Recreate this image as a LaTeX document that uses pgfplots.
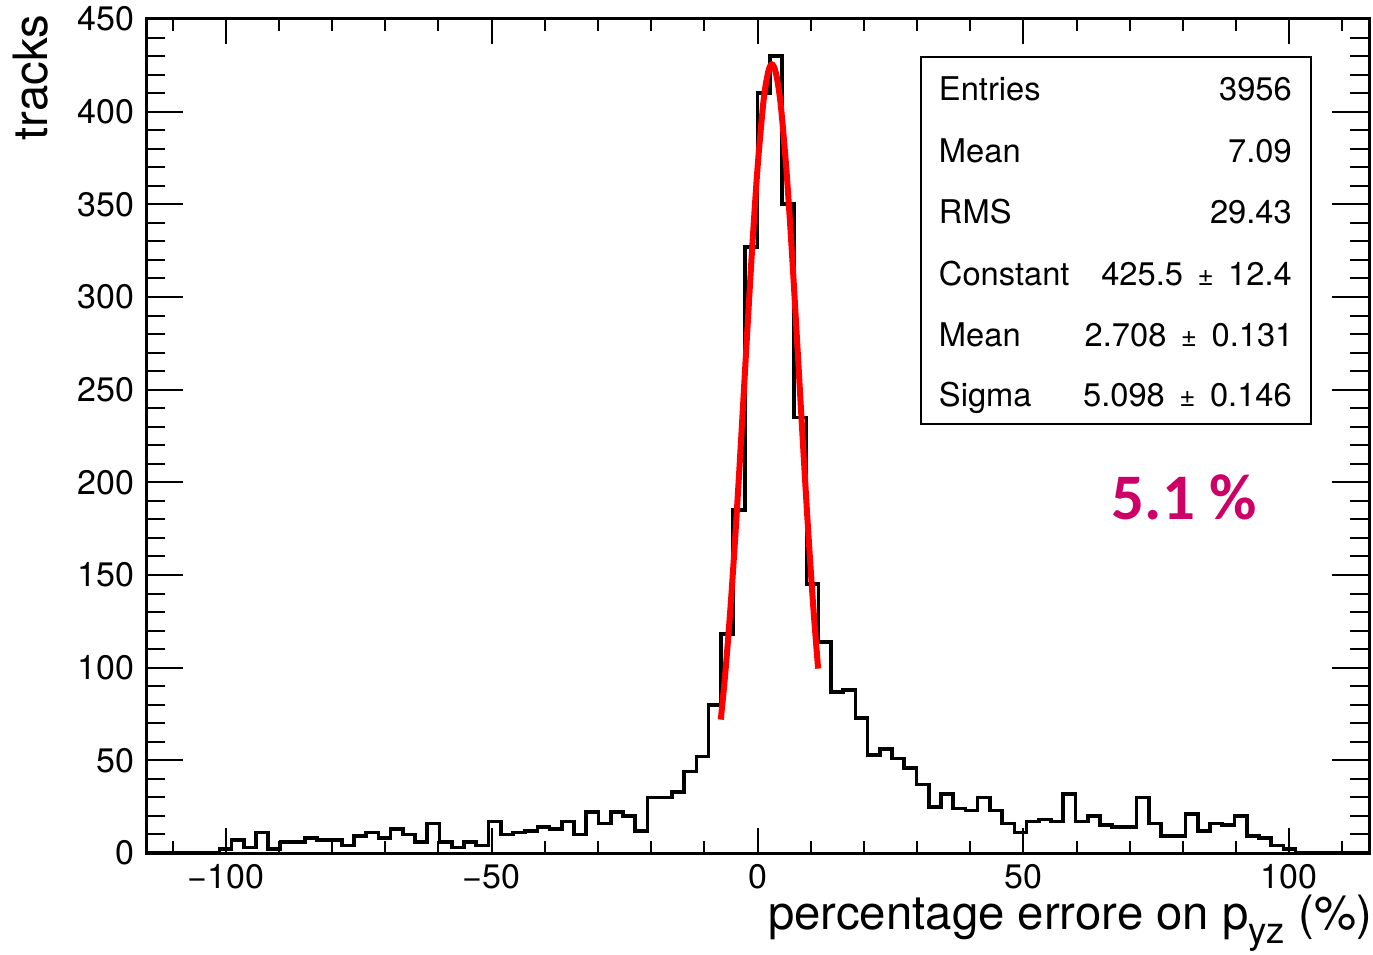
\documentclass[border=0pt]{standalone}
\usepackage{fontspec}
\setmainfont{TeX Gyre Heros}
\newfontfamily\carlito{Carlito}
\usepackage{pgfplots}
\usepackage{pgfplotstable}
\pgfplotsset{compat=1.18}
\definecolor{pctmagenta}{RGB}{204,0,102}

\pgfplotstableread{
x y
-115 0
-112.7 0
-110.4 0
-108.1 0
-105.8 0
-103.5 0
-101.2 2
-98.9 7
-96.6 3
-94.3 11
-92 2
-89.7 6
-87.4 6
-85.1 8
-82.8 7
-80.5 7
-78.2 4
-75.9 9
-73.6 11
-71.3 8
-69 13
-66.7 10
-64.4 6
-62.1 16
-59.8 6
-57.5 3
-55.2 6
-52.9 4
-50.6 17
-48.3 10
-46 11
-43.7 12
-41.4 14
-39.1 13
-36.8 17
-34.5 10
-32.2 22
-29.9 16
-27.6 22
-25.3 20
-23 12
-20.7 30
-18.4 30
-16.1 33
-13.8 44
-11.5 52
-9.2 80
-6.9 118
-4.6 185
-2.3 327
0 410
2.3 430
4.6 350
6.9 235
9.2 145
11.5 114
13.8 87
16.1 88
18.4 73
20.7 53
23 56
25.3 51
27.6 46
29.9 37
32.2 25
34.5 32
36.8 24
39.1 23
41.4 30
43.7 23
46 16
48.3 11
50.6 17
52.9 18
55.2 17
57.5 32
59.8 17
62.1 20
64.4 15
66.7 14
69 14
71.3 30
73.6 16
75.9 9
78.2 9
80.5 21
82.8 12
85.1 16
87.4 15
89.7 20
92 9
94.3 8
96.6 4
98.9 2
101.2 0
103.5 0
105.8 0
108.1 0
110.4 0
112.7 0
115 0
}\histdata

\begin{document}
\begin{tikzpicture}
\begin{axis}[
  scale only axis,
  width=366.9pt, height=250.2pt,
  xmin=-115, xmax=115, ymin=0, ymax=450,
  xtick={-100,-50,0,50,100},
  xticklabels={−100,−50,0,50,100},
  minor xtick={-110,-100,...,110},
  ytick={0,50,...,450},
  minor ytick={0,10,...,450},
  tick align=inside,
  axis line style={line width=0.9pt},
  major tick style={black, line width=0.6pt},
  minor tick style={black, line width=0.6pt},
  xtick style={/pgfplots/major tick length=7.5pt, /pgfplots/minor tick length=3.6pt},
  ytick style={/pgfplots/major tick length=11pt, /pgfplots/minor tick length=5.6pt},
  /pgf/number format/assume math mode=true,
  tick label style={font=\fontsize{10.2}{12}\selectfont},
  xlabel={percentage errore on p\raisebox{-0.55ex}{\fontsize{11}{12}\selectfont yz} (\%)},
  xlabel style={at={(rel axis cs:1.003,-0.0923)}, anchor=base east, inner sep=0pt, font=\fontsize{14.2}{17}\selectfont},
  ylabel={tracks},
  ylabel style={at={(rel axis cs:-0.0793,1.006)}, anchor=south east, inner sep=0pt, rotate=0, font=\fontsize{14.2}{17}\selectfont},
  clip=false,
]
\addplot[const plot mark left, black, line width=1.1pt, mark=none] table[x=x, y=y] {\histdata};
\addplot[red, line width=1.8pt, smooth, mark=none] coordinates {
(-6.9,72.0) (-6,98.9) (-5,135.7) (-4,179.1) (-3,227.4) (-2,277.8) (-1,326.6)
(0,369.5) (1,402.3) (1.5,413.7) (2,421.4) (2.35,424.5) (2.7,425.5) (3.05,424.5)
(3.5,420.4) (4,412.0) (4.5,400.0) (5.5,366.2) (6.5,322.7) (7.5,273.5) (8.5,223.2)
(9.5,175.2) (10.5,132.3) (11.4,99.5)
};
% statistics box
\draw[line width=0.6pt, fill=white] (axis cs:30.83,429.6) rectangle (axis cs:104.14,231.5);
\begin{scope}[every node/.style={inner sep=0pt, font=\fontsize{9.8}{12}\selectfont}]
\node[anchor=base west] at (axis cs:34.0,405.8) {Entries};
\node[anchor=base east] at (axis cs:100.6,405.8) {3956};
\node[anchor=base west] at (axis cs:34.0,372.4) {Mean};
\node[anchor=base east] at (axis cs:100.6,372.4) {7.09};
\node[anchor=base west] at (axis cs:34.0,339.5) {RMS};
\node[anchor=base east] at (axis cs:100.6,339.5) {29.43};
\node[anchor=base west] at (axis cs:34.0,306.1) {Constant};
\node[anchor=base east] at (axis cs:100.6,306.1) {425.5 \,{\fontsize{8.3}{9}\selectfont ±}\, 12.4};
\node[anchor=base west] at (axis cs:34.0,273.2) {Mean};
\node[anchor=base east] at (axis cs:100.9,273.2) {2.708 \,{\fontsize{8.3}{9}\selectfont ±}\, 0.131};
\node[anchor=base west] at (axis cs:34.0,240.8) {Sigma};
\node[anchor=base east] at (axis cs:100.6,240.8) {5.098 \,{\fontsize{8.3}{9}\selectfont ±}\, 0.146};
\end{scope}
\node[anchor=base, inner sep=0pt, text=pctmagenta, font=\carlito\bfseries\fontsize{19.5}{22}\selectfont] at (axis cs:80.3,180.2) {5.1 \%};
\coordinate (BL) at (rel axis cs:-0.11938,-0.12110);
\coordinate (TR) at (rel axis cs:1.00327,1.02278);
\end{axis}
\pgfresetboundingbox
\path[use as bounding box] (BL) rectangle (TR);
\end{tikzpicture}
\end{document}
